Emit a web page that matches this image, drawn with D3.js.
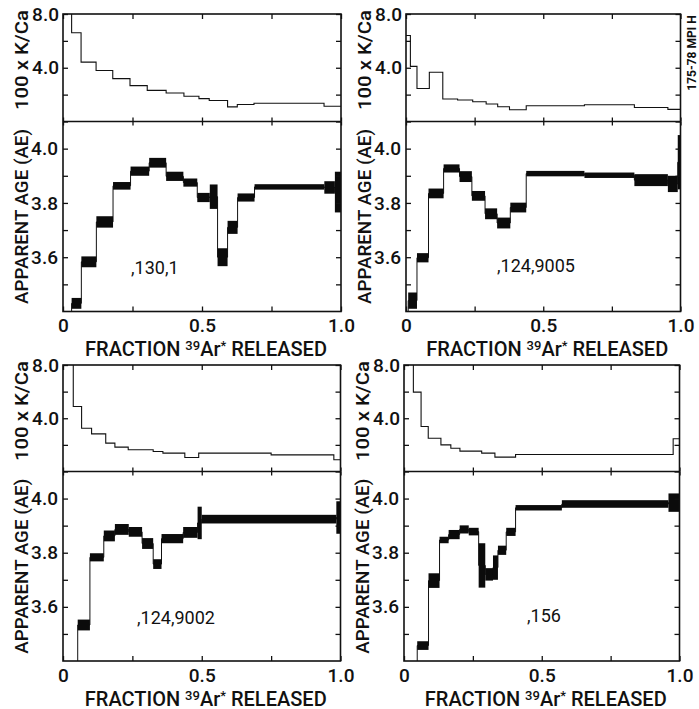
<!DOCTYPE html>
<html lang="en">
<head>
  <meta charset="utf-8">
  <title>Apparent age and K/Ca spectra</title>
  <script src="https://d3js.org/d3.v7.min.js"></script>
  <style>
    body { margin: 0; background: #fff; }
    svg { display: block; font-family: Roboto, 'DejaVu Sans', sans-serif; }
    .frame { fill: none; stroke: #111; stroke-width: 1.6px; }
    .tick line { stroke: #111; stroke-width: 1.3px; }
    .tick text { fill: #111; font-size: 19px; font-weight: 500; }
    .kca { fill: none; stroke: #111; stroke-width: 1.1px; }
    .age-line { fill: none; stroke: #111; stroke-width: 1px; }
    .age-box { fill: #0b0b0b; }
    .axis-title { fill: #111; font-size: 18px; font-weight: 500; white-space: pre; }
    .x-title { font-size: 20px; }
    .sample { fill: #111; font-size: 18px; }
    .stamp { fill: #111; font-size: 12px; font-weight: 700; }
  </style>
</head>
<body>
  <div id="chart"></div>

  <script>

    // shared axis values
    var xTicks = [0, 0.25, 0.5, 0.75, 1];
    var xLabelValues = [0, 0.5, 1];
    var xLabelText = ['0', '0.5', '1.0'];
    var kcaTicks = [0, 2, 4, 6, 8];
    var kcaLabelled = [4, 8];
    var ageTicks = [3.5, 3.6, 3.7, 3.8, 3.9, 4.0];
    var ageLabelled = [3.6, 3.8, 4.0];
    var sampleNames = [',130,1', ',124,9005', ',124,9002', ',156'];

    // ,130,1
    var p1KcaEdges = [0, 0.031, 0.065, 0.119, 0.179, 0.241, 0.303, 0.371, 0.435, 0.489, 0.526, 0.592, 0.627, 0.687, 0.939, 1.0];
    var p1Kca = [9, 6.6, 4.42, 3.8, 3.19, 2.67, 2.32, 2.12, 1.88, 1.70, 1.56, 1.09, 1.26, 1.36, 1.14];
    var p1AgeEdges = [0, 0.031, 0.066, 0.12, 0.18, 0.243, 0.31, 0.371, 0.433, 0.483, 0.528, 0.556, 0.592, 0.628, 0.689, 0.94, 0.978, 1.0];
    var p1Age = [3.3, 3.43, 3.583, 3.73, 3.863, 3.917, 3.948, 3.898, 3.875, 3.82, 3.823, 3.60, 3.71, 3.82, 3.859, 3.857, 3.84];
    var p1Err = [0.02, 0.02, 0.02, 0.021, 0.014, 0.017, 0.018, 0.017, 0.015, 0.017, 0.045, 0.033, 0.024, 0.015, 0.01, 0.023, 0.075];

    // ,124,9005
    var p2KcaEdges = [0, 0.016, 0.040, 0.085, 0.134, 0.188, 0.243, 0.292, 0.334, 0.377, 0.438, 0.650, 0.832, 0.954, 1.0];
    var p2Kca = [6.4, 4.1, 2.46, 3.66, 1.67, 1.6, 1.47, 1.30, 1.10, 0.87, 1.17, 1.25, 1.04, 0.90];
    var p2AgeEdges = [0, 0.008, 0.040, 0.082, 0.137, 0.195, 0.24, 0.288, 0.332, 0.38, 0.438, 0.65, 0.832, 0.954, 0.99, 1.0];
    var p2Age = [3.3, 3.44, 3.598, 3.835, 3.927, 3.897, 3.826, 3.76, 3.726, 3.783, 3.908, 3.902, 3.884, 3.87, 3.95];
    var p2Err = [0.02, 0.03, 0.017, 0.018, 0.015, 0.02, 0.018, 0.02, 0.02, 0.018, 0.01, 0.01, 0.022, 0.03, 0.1];

    // ,124,9002
    var p3KcaEdges = [0, 0.037, 0.067, 0.103, 0.154, 0.187, 0.235, 0.325, 0.36, 0.439, 0.489, 0.75, 0.976, 1.0];
    var p3Kca = [9, 4.88, 3.25, 2.83, 2.13, 1.83, 1.63, 1.5, 1.38, 1.05, 1.38, 1.25, 0.88];
    var p3AgeEdges = [0, 0.053, 0.097, 0.147, 0.187, 0.237, 0.285, 0.325, 0.355, 0.433, 0.485, 0.5, 0.985, 1.0];
    var p3Age = [3.3, 3.533, 3.783, 3.862, 3.886, 3.877, 3.834, 3.758, 3.852, 3.875, 3.91, 3.924, 3.93];
    var p3Err = [0.02, 0.02, 0.015, 0.02, 0.02, 0.018, 0.02, 0.018, 0.017, 0.02, 0.06, 0.016, 0.06];

    // ,156
    var p4KcaEdges = [0, 0.034, 0.062, 0.088, 0.134, 0.17, 0.203, 0.282, 0.33, 0.405, 0.977, 1.0];
    var p4Kca = [9, 5.96, 3.38, 2.5, 2.0, 1.75, 1.53, 1.38, 1.08, 1.28, 2.46];
    var p4AgeEdges = [0, 0.048, 0.089, 0.129, 0.162, 0.202, 0.235, 0.271, 0.295, 0.323, 0.341, 0.371, 0.405, 0.573, 0.96, 1.0];
    var p4Age = [3.3, 3.457, 3.697, 3.847, 3.867, 3.886, 3.878, 3.753, 3.72, 3.745, 3.809, 3.877, 3.966, 3.98, 3.985];
    var p4Err = [0.02, 0.016, 0.027, 0.012, 0.017, 0.015, 0.014, 0.082, 0.023, 0.045, 0.017, 0.015, 0.01, 0.014, 0.034];

    var panels = [
      { name: sampleNames[0], kcaEdges: p1KcaEdges, kca: p1Kca, ageEdges: p1AgeEdges, age: p1Age, err: p1Err },
      { name: sampleNames[1], kcaEdges: p2KcaEdges, kca: p2Kca, ageEdges: p2AgeEdges, age: p2Age, err: p2Err },
      { name: sampleNames[2], kcaEdges: p3KcaEdges, kca: p3Kca, ageEdges: p3AgeEdges, age: p3Age, err: p3Err },
      { name: sampleNames[3], kcaEdges: p4KcaEdges, kca: p4Kca, ageEdges: p4AgeEdges, age: p4Age, err: p4Err }
    ];

    // layout of the four frames (pixels)
    var frames = [
      { left: 63, right: 341, top: 14, mid: 121.5, bottom: 311.5, nameX: 131, nameY: 274 },
      { left: 406, right: 680.5, top: 14, mid: 121.5, bottom: 311.5, nameX: 497, nameY: 272 },
      { left: 63, right: 340.5, top: 365, mid: 471.5, bottom: 661, nameX: 137, nameY: 624 },
      { left: 404, right: 679.5, top: 365, mid: 471.5, bottom: 661, nameX: 527, nameY: 622 }
    ];

    var svg = d3.select('#chart')
                .append('svg')
                .attr('width', 699)
                .attr('height', 709);

    var stepPath = function(edges, values, x, y) {
      var pts = [];
      values.forEach(function(v, j) {
        pts.push([edges[j], v], [edges[j + 1], v]);
      });
      return d3.line().x(function(d) { return x(d[0]); }).y(function(d) { return y(d[1]); })(pts);
    };

    var pick = function(values, texts) {
      return function(d) {
        var i = values.indexOf(d);
        return i < 0 ? '' : (texts ? texts[i] : d.toFixed(1));
      };
    };

    panels.forEach(function(p, i) {

      var f = frames[i];
      var x = d3.scaleLinear().domain([0, 1]).range([f.left, f.right]);
      var yK = d3.scaleLinear().domain([0, 8]).range([f.mid, f.top]);
      var yA = d3.scaleLinear().domain([3.4, 4.1]).range([f.bottom, f.mid]);

      var g = svg.append('g');

      // clip areas for the two spectra
      var defs = g.append('defs');
      defs.append('clipPath').attr('id', 'clipK' + i)
          .append('rect')
          .attr('x', f.left).attr('y', f.top)
          .attr('width', f.right - f.left).attr('height', f.mid - f.top);
      defs.append('clipPath').attr('id', 'clipA' + i)
          .append('rect')
          .attr('x', f.left).attr('y', f.mid)
          .attr('width', f.right - f.left).attr('height', f.bottom - f.mid);

      // K/Ca spectrum
      g.append('path')
       .attr('class', 'kca')
       .attr('clip-path', 'url(#clipK' + i + ')')
       .attr('d', stepPath(p.kcaEdges, p.kca, x, yK));

      // age spectrum
      var ga = g.append('g').attr('clip-path', 'url(#clipA' + i + ')');

      ga.append('path')
        .attr('class', 'age-line')
        .attr('d', stepPath(p.ageEdges, p.age, x, yA));

      ga.selectAll('.age-box')
        .data(p.age)
        .enter()
        .append('rect')
        .attr('class', 'age-box')
        .attr('x', function(d, j) { return x(p.ageEdges[j]); })
        .attr('width', function(d, j) { return x(p.ageEdges[j + 1]) - x(p.ageEdges[j]); })
        .attr('y', function(d, j) { return yA(d + p.err[j]); })
        .attr('height', function(d, j) { return yA(d - p.err[j]) - yA(d + p.err[j]); });

      // axes with inward ticks
      var axes = [
        [d3.axisTop(x).tickValues(xTicks).tickSizeInner(-5).tickFormat(''), 'translate(0,' + f.top + ')'],
        [d3.axisBottom(x).tickValues(xTicks).tickSizeInner(-4).tickFormat(''), 'translate(0,' + f.mid + ')'],
        [d3.axisTop(x).tickValues(xTicks).tickSizeInner(-4).tickFormat(''), 'translate(0,' + f.mid + ')'],
        [d3.axisBottom(x).tickValues(xTicks).tickSizeInner(-5).tickPadding(7.5).tickFormat(pick(xLabelValues, xLabelText)), 'translate(0,' + f.bottom + ')'],
        [d3.axisLeft(yK).tickValues(kcaTicks).tickSizeInner(-5).tickPadding(4).tickFormat(pick(kcaLabelled)), 'translate(' + f.left + ',0)'],
        [d3.axisRight(yK).tickValues(kcaTicks).tickSizeInner(-5).tickFormat(''), 'translate(' + f.right + ',0)'],
        [d3.axisLeft(yA).tickValues(ageTicks).tickSizeInner(-5).tickPadding(5).tickFormat(pick(ageLabelled)), 'translate(' + f.left + ',0)'],
        [d3.axisRight(yA).tickValues(ageTicks).tickSizeInner(-5).tickFormat(''), 'translate(' + f.right + ',0)']
      ];

      axes.forEach(function(a) {
        var ax = g.append('g').attr('transform', a[1]).call(a[0].tickSizeOuter(0));
        ax.select('.domain').remove();
        ax.attr('font-family', null).attr('font-size', null);
      });

      // frames
      g.append('rect').attr('class', 'frame')
       .attr('x', f.left).attr('y', f.top)
       .attr('width', f.right - f.left).attr('height', f.bottom - f.top);
      g.append('line').attr('class', 'frame')
       .attr('x1', f.left).attr('x2', f.right)
       .attr('y1', f.mid).attr('y2', f.mid);

      // axis titles
      g.append('text')
       .attr('class', 'axis-title')
       .attr('text-anchor', 'middle')
       .attr('transform', 'translate(' + (f.left - 35) + ',' + (f.top + 46) + ') rotate(-90)')
       .attr('textLength', 100)
       .attr('lengthAdjust', 'spacingAndGlyphs')
       .text('100 x K/Ca');

      g.append('text')
       .attr('class', 'axis-title')
       .attr('text-anchor', 'middle')
       .attr('transform', 'translate(' + (f.left - 35) + ',' + ((f.mid + f.bottom) / 2) + ') rotate(-90)')
       .attr('textLength', 175)
       .attr('lengthAdjust', 'spacingAndGlyphs')
       .text('APPARENT AGE (AE)');

      var t = g.append('text')
               .attr('class', 'axis-title x-title')
               .attr('text-anchor', 'middle')
               .attr('x', (f.left + f.right) / 2 + 4)
               .attr('y', f.bottom + 44.5);
      t.append('tspan').text('FRACTION ');
      t.append('tspan').attr('font-size', '13px').attr('dy', -6).text('39');
      t.append('tspan').attr('dy', 6).text('Ar');
      t.append('tspan').attr('font-size', '13px').attr('dy', -6).text('*');
      t.append('tspan').attr('dy', 6).text(' RELEASED');

      g.append('text')
       .attr('class', 'sample')
       .attr('x', f.nameX)
       .attr('y', f.nameY)
       .text(p.name);

    });

    svg.append('text')
       .attr('class', 'stamp')
       .attr('text-anchor', 'middle')
       .attr('transform', 'translate(692,53) rotate(-90)')
       .attr('dy', '0.35em')
       .text('175-78 MPI H');

  </script>
</body>
</html>
